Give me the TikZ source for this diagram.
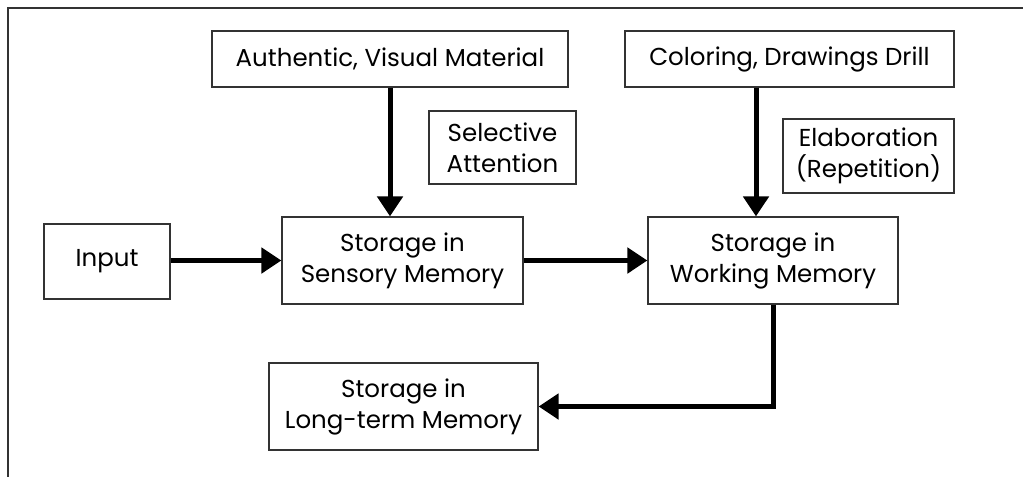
\documentclass[tikz,border=0pt]{standalone}
\usepackage{fontspec}
\setmainfont{Poppins}
\usetikzlibrary{arrows.meta,calc}
\begin{document}
\begin{tikzpicture}[x=1pt,y=-1pt,
  box/.style={draw=black!80,line width=1.2pt,fill=white,align=center,inner sep=0pt,font=\fontsize{24.5}{31}\selectfont},
  flow/.style={line width=5pt,-{Triangle[length=20pt,width=25pt]}}]
\useasboundingbox (0,0) rectangle (1023,477);
\draw[black!80,line width=1.2pt] (1023,8) -- (8,8) -- (8,477);
\node[box,minimum width=356pt,minimum height=56pt] (auth) at (390,59) {Authentic, Visual Material};
\node[box,minimum width=329pt,minimum height=56pt] (color) at (789.5,59) {Coloring, Drawings Drill};
\node[box,minimum width=147pt,minimum height=73pt] (sel) at (502.5,147.5) {Selective\\Attention};
\node[box,minimum width=171pt,minimum height=74pt] (elab) at (868.5,156) {Elaboration\\(Repetition)};
\node[box,minimum width=241pt,minimum height=87pt] (sens) at (402.5,260.5) {Storage in\\Sensory Memory};
\node[box,minimum width=250pt,minimum height=87pt] (work) at (773,260.5) {Storage in\\Working Memory};
\node[box,minimum width=126pt,minimum height=75pt] (input) at (107,261.5) {Input};
\node[box,minimum width=269pt,minimum height=87pt] (long) at (403.5,406.5) {Storage in\\Long-term Memory};
\draw[flow] (auth.south) -- (auth.south |- sens.north);
\draw[flow] ($(color.south)+(-33.5,0)$) coordinate (cs) -- (cs |- work.north);
\draw[flow] (input.east |- sens.west) -- (sens.west);
\draw[flow] (sens.east) -- (work.west);
\draw[flow] (work.south) |- (long.east);
\end{tikzpicture}
\end{document}
